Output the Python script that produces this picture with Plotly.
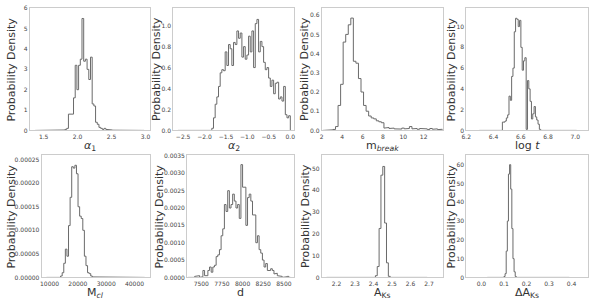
import numpy as np
import plotly.graph_objects as go

W, H = 594, 301

# ---------------- data ----------------
# alpha_1
a1_range = [1.375, 2.98]
a1_start, a1_width = 1.79, 0.025
a1_dens = [0.02, 0.05, 0.1, 0.8, 0.8, 0.8, 1.6, 3.2, 2.0, 3.2, 3.5, 5.5, 3.4, 3.5,
           3.0, 2.5, 3.6, 1.3, 1.2, 0.4, 0.3, 0.15, 0.1, 0.05, 0.1, 0.05, 0.03,
           0.05, 0.02, 0.01]

# alpha_2
a2_range = [-2.62, 0.003]
a2_start, a2_width = -1.83, 0.039
a2_dens = [0.02, 0.12, 0.25, 0.32, 0.42, 0.55, 0.58, 0.57, 0.75, 0.62, 0.82, 0.78,
           0.62, 0.84, 0.82, 0.95, 0.88, 0.93, 0.7, 0.8, 0.68, 0.72, 0.9, 0.75,
           0.95, 0.6, 1.02, 1.06, 0.75, 0.85, 0.8, 0.65, 0.58, 0.6, 0.5, 0.42,
           0.48, 0.35, 0.45, 0.46, 0.3, 0.32, 0.28, 0.42, 0.15, 0.12, 0.14]

# m_break
mb_range = [2.1, 13.85]
mb_start, mb_width = 2.1, 0.25
mb_dens = [0, 0, 0.003, 0.003, 0.005, 0.02, 0.13, 0.24, 0.46, 0.5, 0.55, 0.585,
           0.36, 0.35, 0.27, 0.2, 0.13, 0.1, 0.075, 0.065, 0.06, 0.05, 0.045, 0.04,
           0.012, 0.015, 0.01, 0.012, 0.008, 0.01, 0.007, 0.012, 0.008, 0.01, 0.02,
           0.008, 0.01, 0.006, 0.01, 0.007, 0.008, 0.005, 0.01, 0.006, 0.008,
           0.004, 0.006]

# log t
lt_range = [6.295, 7.01]
lt_start, lt_width = 6.465, 0.0097
lt_dens = [0.8, 0.8, 0.9, 1.2, 1.5, 3.3, 2.9, 5.2, 6.0, 9.5, 10.8, 10.7, 10.0, 10.6,
           8.0, 5.8, 6.7, 7.0, 0.1, 4.8, 4.0, 2.8, 1.1, 1.6, 2.3, 1.3, 1.0, 0.6, 0.1]

# M_cl
mc_range = [8930, 43570]
mc_start, mc_width = 13900, 560
mc_dens = [0.000003, 0.00001, 0.00003, 0.00006, 0.000045, 0.00011, 0.00017,
           0.000235, 0.000232, 0.000238, 0.00022, 0.00015, 0.00013, 0.000125,
           0.0001, 0.000045, 0.000025, 0.00001, 0.000008, 0.000003, 0.000001]

# d
d_range = [7340, 8580]
d_start, d_width = 7420, 20
d_dens = [0.00003, 0.00005, 0.00005, 0.0, 0.00002, 0.0002, 0.00005, 0.00005, 0.0002,
          0.0003, 0.00015, 0.0003, 0.00035, 0.0006, 0.00065, 0.0008, 0.0012, 0.0014,
          0.0021, 0.0019, 0.0025, 0.002, 0.0021, 0.0024, 0.0022, 0.002, 0.0021,
          0.0017, 0.00325, 0.0026, 0.0026, 0.0015, 0.0023, 0.0024, 0.0022, 0.0018,
          0.0018, 0.001, 0.0012, 0.0008, 0.0007, 0.0005, 0.0003, 0.0004, 0.0002,
          0.0002, 0.00025, 0.0002, 0.0001, 0.00012, 0.00005, 0.00005, 0.00003, 0.0,
          0.00002, 0.00002, 0.00003, 0.0]

# A_Ks
ak_range = [2.146, 2.69]
ak_start, ak_width = 2.41, 0.01
ak_dens = [0.8, 5, 22.5, 47, 51, 25, 6.7, 0.5]

# Delta A_Ks
dak_range = [0.026, 0.39]
dak_start, dak_width = 0.1, 0.005
dak_dens = [0.5, 2, 14, 30, 55, 60, 47, 26, 10, 3, 0.5]

# axis labels & ticks
x_titles = ["<i>α</i><sub>1</sub>", "<i>α</i><sub>2</sub>", "m<sub><i>break</i></sub>",
            "log <i>t</i>", "M<sub><i>cl</i></sub>", "d", "A<sub>Ks</sub>",
            "ΔA<sub>Ks</sub>"]
y_title = "Probability Density"
x_ticks = [[1.5, 2.0, 2.5, 3.0], [-2.5, -2.0, -1.5, -1.0, -0.5, 0.0],
           [2, 4, 6, 8, 10, 12], [6.2, 6.4, 6.6, 6.8, 7.0],
           [10000, 20000, 30000, 40000], [7500, 7750, 8000, 8250, 8500],
           [2.2, 2.3, 2.4, 2.5, 2.6, 2.7], [0.0, 0.1, 0.2, 0.3, 0.4]]
x_fmt = [".1f", ".1f", "d", ".1f", "d", "d", ".1f", ".1f"]
y_ticks = [[0, 1, 2, 3, 4, 5, 6], [0.0, 0.2, 0.4, 0.6, 0.8, 1.0],
           [0.0, 0.1, 0.2, 0.3, 0.4, 0.5, 0.6], [0, 2, 4, 6, 8, 10],
           [0, 0.00005, 0.0001, 0.00015, 0.0002, 0.00025],
           [0, 0.0005, 0.001, 0.0015, 0.002, 0.0025, 0.003, 0.0035],
           [0, 10, 20, 30, 40, 50], [0, 10, 20, 30, 40, 50, 60]]
y_fmt = ["d", ".1f", ".1f", "d", ".5f", ".4f", "d", "d"]
x_lims = [[1.295, 3.06], [-2.73, 0.09], [2.0, 13.85], [6.2, 7.094],
          [7200, 45300], [7329, 8623], [2.12, 2.773], [-0.067, 0.473]]
y_lims = [[0, 6.02], [0, 1.17], [0, 0.638], [0, 11.8],
          [0, 0.00026], [0, 0.00353], [0, 56.3], [0, 65.2]]

panels = [
    (a1_range, a1_start, a1_width, a1_dens),
    (a2_range, a2_start, a2_width, a2_dens),
    (mb_range, mb_start, mb_width, mb_dens),
    (lt_range, lt_start, lt_width, lt_dens),
    (mc_range, mc_start, mc_width, mc_dens),
    (d_range, d_start, d_width, d_dens),
    (ak_range, ak_start, ak_width, ak_dens),
    (dak_range, dak_start, dak_width, dak_dens),
]

# ---------------- layout (pixel boxes) ----------------
boxes = [(25, 146, 5, 130), (170, 292, 5, 130), (320, 442, 5, 130), (466, 589, 5, 130),
         (37, 146, 155, 280), (184, 292, 155, 280), (320, 442, 155, 280), (466, 589, 155, 280)]
ytitle_x = [6.5, 152.5, 302, 451, 6.5, 156, 303, 451]
xtitle_top = [137, 137, 137, 137, 287, 287, 287, 287]


def step_xy(rng, start, width, dens):
    dens = np.asarray(dens, dtype=float)
    edges = start + width * np.arange(len(dens) + 1)
    e = list(edges)
    v = list(dens)
    if rng[0] < edges[0]:
        e = [rng[0]] + e
        v = [0.0] + v
    if rng[1] > edges[-1]:
        e = e + [rng[1]]
        v = v + [0.0]
    e = np.array(e)
    v = np.array(v)
    xs = np.repeat(e, 2)
    ys = np.concatenate([[0.0], np.repeat(v, 2), [0.0]])
    return xs, ys


fig = go.Figure()
FONT = "DejaVu Sans"
annotations = []
for i, (rng, st, wd, dens) in enumerate(panels):
    k = "" if i == 0 else str(i + 1)
    xs, ys = step_xy(rng, st, wd, dens)
    fig.add_trace(go.Scatter(x=xs, y=ys, mode="lines",
                             line=dict(color="#6a6a6a", width=1),
                             xaxis="x" + k, yaxis="y" + k, showlegend=False,
                             hoverinfo="skip"))
    x0, x1, y0, y1 = boxes[i]
    axis_common = dict(showline=True, mirror=True, linecolor="#cccccc", linewidth=1,
                       showgrid=False, zeroline=False, ticks="",
                       tickfont=dict(family=FONT, size=6, color="#444444"))
    fig.layout["xaxis" + k] = dict(
        domain=[x0 / W, x1 / W], anchor="y" + k, range=x_lims[i],
        tickmode="array", tickvals=x_ticks[i], tickformat=x_fmt[i], **axis_common)
    fig.layout["yaxis" + k] = dict(
        domain=[1 - y1 / H, 1 - y0 / H], anchor="x" + k, range=y_lims[i],
        tickmode="array", tickvals=y_ticks[i], tickformat=y_fmt[i], **axis_common)
    annotations.append(dict(text=y_title, x=ytitle_x[i] / W, y=1 - (y0 + y1) / 2 / H,
                            xref="paper", yref="paper", showarrow=False, textangle=-90,
                            xanchor="center", yanchor="middle",
                            font=dict(family=FONT, size=11, color="#333333")))
    annotations.append(dict(text=x_titles[i], x=(x0 + x1) / 2 / W, y=1 - xtitle_top[i] / H,
                            xref="paper", yref="paper", showarrow=False,
                            xanchor="center", yanchor="top",
                            font=dict(family=FONT, size=11, color="#333333")))

fig.update_layout(width=W, height=H, autosize=False,
                  margin=dict(l=0, r=0, t=0, b=0),
                  paper_bgcolor="white", plot_bgcolor="white",
                  annotations=annotations)
fig.write_html("out.html", config={"displayModeBar": False},
               post_script="document.body.style.margin='0';document.body.style.overflow='hidden';")
